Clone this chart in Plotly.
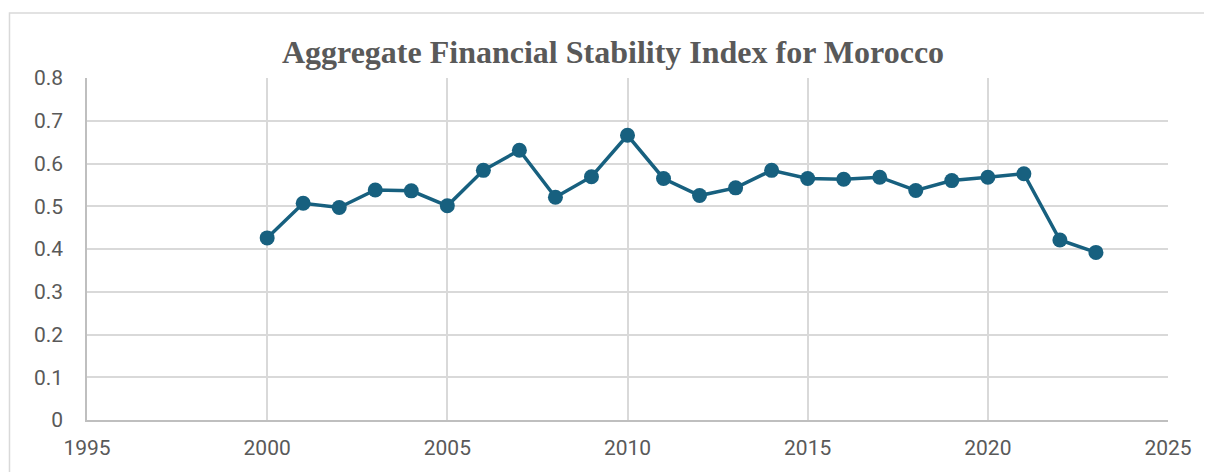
import plotly.graph_objects as go

years = list(range(2000, 2024))
afsi = [0.426, 0.507, 0.497, 0.538, 0.536, 0.501, 0.584, 0.631, 0.521, 0.569,
        0.666, 0.565, 0.525, 0.543, 0.584, 0.565, 0.563, 0.568, 0.537, 0.560,
        0.568, 0.576, 0.421, 0.392]

x_ticks = [1995, 2000, 2005, 2010, 2015, 2020, 2025]
y_ticks = [0, 0.1, 0.2, 0.3, 0.4, 0.5, 0.6, 0.7, 0.8]
y_tick_text = ["0", "0.1", "0.2", "0.3", "0.4", "0.5", "0.6", "0.7", "0.8"]

line_color = "#17607f"
grid = "#d9d9d9"
text_gray = "#595959"

fig = go.Figure()
fig.add_trace(go.Scatter(
    x=years, y=afsi, mode="lines+markers",
    line=dict(color=line_color, width=3.5),
    marker=dict(color=line_color, size=15),
    showlegend=False, hoverinfo="x+y",
))

fig.update_layout(
    width=1204, height=464,
    margin=dict(l=79, r=44, t=70, b=48),
    paper_bgcolor="white", plot_bgcolor="white",
    title=dict(
        text="<b>Aggregate Financial Stability Index for Morocco</b>",
        font=dict(family="Liberation Serif, Times New Roman, serif", size=32, color=text_gray),
        x=0.4866, xanchor="center", y=0.905, yanchor="middle", xref="paper",
    ),
    xaxis=dict(
        range=[1995, 2025], tickvals=x_ticks, ticktext=[str(v) for v in x_ticks],
        showgrid=True, gridcolor=grid, gridwidth=1.5,
        showline=True, linecolor="#bfbfbf", linewidth=1.5,
        zeroline=False, ticks="", ticklabelstandoff=8,
        tickfont=dict(family="Roboto, Liberation Sans, sans-serif", size=21, color=text_gray),
    ),
    yaxis=dict(
        range=[0, 0.8], tickvals=y_ticks, ticktext=y_tick_text,
        showgrid=True, gridcolor=grid, gridwidth=1.5,
        showline=True, linecolor="#bfbfbf", linewidth=1.5,
        zeroline=False, ticks="", ticklabelstandoff=18,
        tickfont=dict(family="Roboto, Liberation Sans, sans-serif", size=21, color=text_gray),
    ),
    shapes=[dict(
        type="rect", xref="paper", yref="paper",
        x0=-0.0717, x1=1.2, y0=-0.3, y1=1.19,
        line=dict(color=grid, width=1.5), fillcolor="rgba(0,0,0,0)", layer="below",
    )],
)

fig.write_html("out.html")
